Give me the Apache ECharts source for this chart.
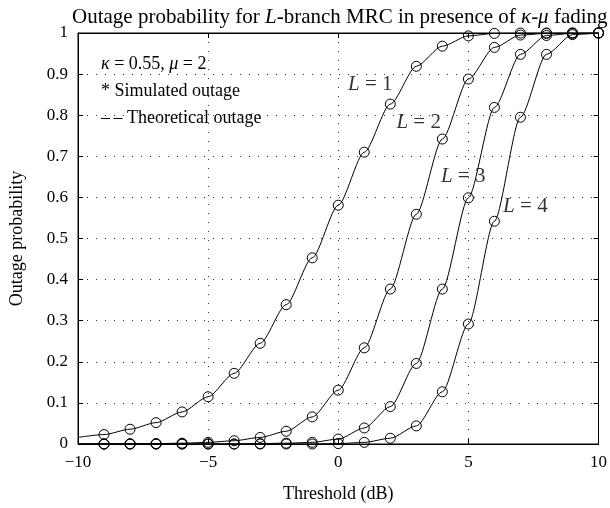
<!DOCTYPE html>
<html lang="en">
<head>
<meta charset="UTF-8">
<title>Outage probability for L-branch MRC</title>
<script src="https://cdn.jsdelivr.net/npm/echarts@6/dist/echarts.min.js"></script>
<style>
  html, body { margin: 0; padding: 0; background: #fff; }
  #main { width: 610px; height: 508px; }
</style>
</head>
<body>
<div id="main"></div>
<script>
// threshold in dB, one point per integer from -10 to 10
const thresholds = [-10, -9, -8, -7, -6, -5, -4, -3, -2, -1, 0, 1, 2, 3, 4, 5, 6, 7, 8, 9, 10];
// outage probability
const outageL1 = [0.016, 0.023, 0.036, 0.052, 0.078, 0.115, 0.172, 0.245, 0.339, 0.453, 0.581, 0.710, 0.827, 0.919, 0.968, 0.993, 0.999, 1, 1, 1, 1];
const outageL2 = [0, 0, 0.0005, 0.001, 0.002, 0.004, 0.008, 0.016, 0.031, 0.066, 0.131, 0.234, 0.377, 0.559, 0.742, 0.888, 0.965, 0.995, 0.999, 1, 1];
const outageL3 = [0, 0, 0, 0, 0, 0, 0, 0.001, 0.002, 0.004, 0.012, 0.039, 0.091, 0.196, 0.377, 0.599, 0.819, 0.948, 0.994, 0.999, 1];
const outageL4 = [0, 0, 0, 0, 0, 0, 0, 0, 0, 0, 0.001, 0.004, 0.014, 0.044, 0.127, 0.292, 0.542, 0.795, 0.948, 0.996, 1];
const curveNames = ['L = 1', 'L = 2', 'L = 3', 'L = 4'];
// where each curve label sits, in data units
const labelX = [1.23, 3.09, 4.80, 7.19];
const labelY = [0.874, 0.783, 0.652, 0.577];

const FONT = '"Liberation Serif", "DejaVu Serif", serif';
const myChart = echarts.init(document.getElementById('main'));

// the theoretical curve runs from -10, the simulated circles start at -9
function curveData(vals) {
    return thresholds.map((x, i) => i === 0 ? { value: [x, vals[i]], symbol: 'none' } : [x, vals[i]]);
}

const lineSeries = [outageL1, outageL2, outageL3, outageL4].map((vals, k) => ({
    name: curveNames[k],
    type: 'line',
    data: curveData(vals),
    smooth: 0.25,
    smoothMonotone: 'x',
    symbol: 'circle',
    symbolSize: 10,
    itemStyle: { color: 'rgba(0,0,0,0)', borderColor: '#000', borderWidth: 1 },
    lineStyle: { color: '#000', width: 1 },
    z: 3,
    silent: true
}));

const labelSeries = {
    type: 'scatter',
    symbolSize: 0,
    silent: true,
    data: curveNames.map((n, k) => [labelX[k], labelY[k], n]),
    label: {
        show: true,
        position: 'inside',
        formatter: p => '{i|L} = ' + p.value[2].split('= ')[1],
        fontFamily: FONT,
        fontSize: 21,
        color: '#000',
        rich: { i: { fontStyle: 'italic', fontFamily: FONT, fontSize: 21, color: '#000' } }
    },
    z: 5
};

const tickFont = { fontFamily: FONT, fontSize: 17, color: '#000' };
const nameFont = { fontFamily: FONT, fontSize: 18, color: '#000' };
const dotted = { show: true, lineStyle: { color: '#333', type: [1, 8], width: 1 } };
const frameLine = { onZero: false, lineStyle: { color: '#000' } };
const innerTick = { inside: true, length: 5, lineStyle: { color: '#000' } };

const option = {
    animation: false,
    backgroundColor: '#fff',
    title: {
        text: 'Outage probability for {i|L}-branch MRC in presence of {i|κ-μ} fading',
        left: 67,
        top: 2,
        textStyle: {
            fontFamily: FONT, fontSize: 21, fontWeight: 'normal', color: '#000',
            rich: { i: { fontStyle: 'italic', fontFamily: FONT, fontSize: 21, color: '#000' } }
        }
    },
    grid: { left: 75, right: 8, top: 33, bottom: 61, show: true, borderColor: '#000', borderWidth: 1 },
    xAxis: [{
        type: 'value', min: -10, max: 10, interval: 5,
        name: 'Threshold (dB)', nameLocation: 'middle', nameGap: 41,
        nameTextStyle: nameFont,
        axisLine: frameLine,
        axisTick: innerTick,
        axisLabel: Object.assign({ margin: 10, formatter: v => String(v).replace('-', '\u2212') }, tickFont),
        splitLine: dotted
    }, {
        type: 'value', min: -10, max: 10, interval: 5, position: 'top',
        axisLine: frameLine,
        axisTick: innerTick,
        axisLabel: { show: false }, splitLine: { show: false }
    }],
    yAxis: [{
        type: 'value', min: 0, max: 1, interval: 0.1,
        name: 'Outage probability', nameLocation: 'middle', nameGap: 52,
        nameTextStyle: nameFont,
        axisLine: frameLine,
        axisTick: innerTick,
        axisLabel: Object.assign({ margin: 10 }, tickFont),
        splitLine: dotted
    }, {
        type: 'value', min: 0, max: 1, interval: 0.1, position: 'right',
        axisLine: frameLine,
        axisTick: innerTick,
        axisLabel: { show: false }, splitLine: { show: false }
    }],
    graphic: [{
        type: 'text', left: 101, top: 51,
        style: {
            text: '{i|κ} = 0.55, {i|μ} = 2\n* Simulated outage\n\u2013\u2009\u2013 Theoretical outage',
            font: '18px ' + FONT, fill: '#000', lineHeight: 27,
            rich: { i: { fontStyle: 'italic', fontFamily: FONT, fontSize: 18, fill: '#000', lineHeight: 27 } }
        },
        z: 10
    }],
    series: lineSeries.concat([labelSeries])
};

myChart.setOption(option);
</script>
</body>
</html>
